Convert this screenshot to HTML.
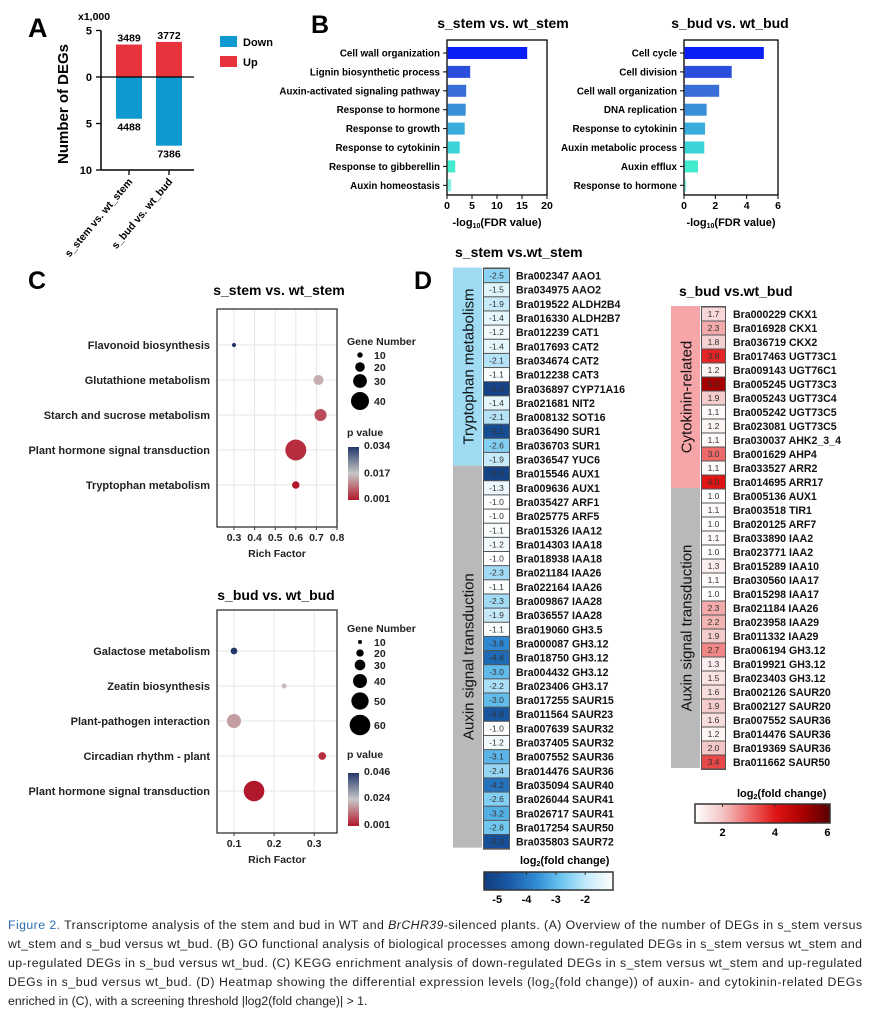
<!DOCTYPE html>
<html><head><meta charset="utf-8">
<style>
html,body{margin:0;padding:0;background:#fff;}
svg{display:block;font-family:"Liberation Sans",Arial,sans-serif;}
.b{font-weight:bold;}
</style></head>
<body>
<svg id="fig" width="871" height="1015" viewBox="0 0 871 1015" xmlns="http://www.w3.org/2000/svg">
<text x="28" y="37" font-size="27" class="b">A</text>
<text x="311" y="33" font-size="25" class="b">B</text>
<text x="28" y="289" font-size="25" class="b">C</text>
<text x="414" y="289" font-size="25" class="b">D</text>

<g id="panelA">
  <text x="78" y="20" font-size="10.5" class="b">x1,000</text>
  <text transform="translate(68,104) rotate(-90)" font-size="15" text-anchor="middle" class="b">Number of DEGs</text>
  <rect x="220" y="36" width="17" height="11" fill="#0e9ad0"/>
  <text x="243" y="46" font-size="11" class="b">Down</text>
  <rect x="220" y="56" width="17" height="11" fill="#e8323c"/>
  <text x="243" y="66" font-size="11" class="b">Up</text>
</g>

<text x="503" y="28" font-size="14" class="b" text-anchor="middle">s_stem vs. wt_stem</text>
<text x="730" y="28" font-size="14" class="b" text-anchor="middle">s_bud vs. wt_bud</text>
<g id="panelB1"></g>
<g id="panelB2"></g>

<text x="279" y="295" font-size="14" class="b" text-anchor="middle">s_stem vs. wt_stem</text>
<text x="276" y="600" font-size="14" class="b" text-anchor="middle">s_bud vs. wt_bud</text>
<g id="panelC1"></g>
<g id="panelC2"></g>

<text x="455" y="257" font-size="14" class="b">s_stem vs.wt_stem</text>
<text x="679" y="296" font-size="14" class="b">s_bud vs.wt_bud</text>
<g id="panelD1"></g>
<g id="panelD2"></g>

<g font-size="12.3" fill="#231f20">
<text x="8" y="929" textLength="854" lengthAdjust="spacing"><tspan fill="#2b6cb0">Figure 2.</tspan> Transcriptome analysis of the stem and bud in WT and <tspan font-style="italic">BrCHR39</tspan>-silenced plants. (A) Overview of the number of DEGs in s_stem versus</text>
<text x="8" y="948" textLength="854" lengthAdjust="spacing">wt_stem and s_bud versus wt_bud. (B) GO functional analysis of biological processes among down-regulated DEGs in s_stem versus wt_stem and</text>
<text x="8" y="967" textLength="854" lengthAdjust="spacing">up-regulated DEGs in s_bud versus wt_bud. (C) KEGG enrichment analysis of down-regulated DEGs in s_stem versus wt_stem and up-regulated</text>
<text x="8" y="986" textLength="854" lengthAdjust="spacing">DEGs in s_bud versus wt_bud. (D) Heatmap showing the differential expression levels (log<tspan font-size="8" dy="3">2</tspan><tspan dy="-3">(fold change)) of auxin- and cytokinin-related DEGs</tspan></text>
<text x="8" y="1005">enriched in (C), with a screening threshold |log2(fold change)| &gt; 1.</text>
</g>
</svg>

<script>
const degCats = ['s_stem vs. wt_stem', 's_bud vs. wt_bud'];
const degUp = [3489, 3772];
const degDown = [4488, 7386];
const degTicks = [5, 0, 5, 10];
const degTickVals = [-5000, 0, 5000, 10000];

const goStemTerms = ['Cell wall organization','Lignin biosynthetic process','Auxin-activated signaling pathway','Response to hormone','Response to growth','Response to cytokinin','Response to gibberellin','Auxin homeostasis'];
const goStemVals = [15.9, 4.5, 3.7, 3.6, 3.4, 2.4, 1.5, 0.7];
const goStemTicks = [0, 5, 10, 15, 20];
const goBudTerms = ['Cell cycle','Cell division','Cell wall organization','DNA replication','Response to cytokinin','Auxin metabolic process','Auxin efflux','Response to hormone'];
const goBudVals = [5.05, 3.0, 2.2, 1.4, 1.3, 1.25, 0.85, 0.1];
const goBudTicks = [0, 2, 4, 6];

const keggStemTerms = ['Flavonoid biosynthesis','Glutathione metabolism','Starch and sucrose metabolism','Plant hormone signal transduction','Tryptophan metabolism'];
const keggStemRich = [0.30, 0.71, 0.72, 0.60, 0.60];
const keggStemCount = [7, 21, 26, 47, 15];
const keggStemP = [0.034, 0.015, 0.006, 0.003, 0.001];
const keggStemTicks = [0.3, 0.4, 0.5, 0.6, 0.7, 0.8];
const keggStemSizeLegend = [10, 20, 30, 40];
const keggStemPTicks = [0.034, 0.017, 0.001];

const keggBudTerms = ['Galactose metabolism','Zeatin biosynthesis','Plant-pathogen interaction','Circadian rhythm - plant','Plant hormone signal transduction'];
const keggBudRich = [0.10, 0.225, 0.10, 0.32, 0.15];
const keggBudCount = [18, 13, 40, 21, 60];
const keggBudP = [0.046, 0.022, 0.018, 0.004, 0.001];
const keggBudTicks = [0.1, 0.2, 0.3];
const keggBudSizeLegend = [10, 20, 30, 40, 50, 60];
const keggBudPTicks = [0.046, 0.024, 0.001];

const stemGenes = ['Bra002347 AAO1','Bra034975 AAO2','Bra019522 ALDH2B4','Bra016330 ALDH2B7','Bra012239 CAT1','Bra017693 CAT2','Bra034674 CAT2','Bra012238 CAT3','Bra036897 CYP71A16','Bra021681 NIT2','Bra008132 SOT16','Bra036490 SUR1','Bra036703 SUR1','Bra036547 YUC6',
'Bra015546 AUX1','Bra009636 AUX1','Bra035427 ARF1','Bra025775 ARF5','Bra015326 IAA12','Bra014303 IAA18','Bra018938 IAA18','Bra021184 IAA26','Bra022164 IAA26','Bra009867 IAA28','Bra036557 IAA28','Bra019060 GH3.5','Bra000087 GH3.12','Bra018750 GH3.12','Bra004432 GH3.12','Bra023406 GH3.17','Bra017255 SAUR15','Bra011564 SAUR23','Bra007639 SAUR32','Bra037405 SAUR32','Bra007552 SAUR36','Bra014476 SAUR36','Bra035094 SAUR40','Bra026044 SAUR41','Bra026717 SAUR41','Bra017254 SAUR50','Bra035803 SAUR72'];
const stemVals = [-2.5,-1.5,-1.9,-1.4,-1.2,-1.4,-2.1,-1.1,-5.4,-1.4,-2.1,-5.1,-2.6,-1.9,
-5.4,-1.3,-1.0,-1.0,-1.1,-1.2,-1.0,-2.3,-1.1,-2.3,-1.9,-1.1,-3.8,-4.4,-3.0,-2.2,-3.0,-4.8,-1.0,-1.2,-3.1,-2.4,-4.2,-2.6,-3.2,-2.8,-5.0];
const stemGroups = ['Tryptophan metabolism','Auxin signal transduction'];
const stemGroupSizes = [14, 27];

const budGenes = ['Bra000229 CKX1','Bra016928 CKX1','Bra036719 CKX2','Bra017463 UGT73C1','Bra009143 UGT76C1','Bra005245 UGT73C3','Bra005243 UGT73C4','Bra005242 UGT73C5','Bra023081 UGT73C5','Bra030037 AHK2_3_4','Bra001629 AHP4','Bra033527 ARR2','Bra014695 ARR17',
'Bra005136 AUX1','Bra003518 TIR1','Bra020125 ARF7','Bra033890 IAA2','Bra023771 IAA2','Bra015289 IAA10','Bra030560 IAA17','Bra015298 IAA17','Bra021184 IAA26','Bra023958 IAA29','Bra011332 IAA29','Bra006194 GH3.12','Bra019921 GH3.12','Bra023403 GH3.12','Bra002126 SAUR20','Bra002127 SAUR20','Bra007552 SAUR36','Bra014476 SAUR36','Bra019369 SAUR36','Bra011662 SAUR50'];
const budVals = [1.7,2.3,1.8,3.8,1.2,5.0,1.9,1.1,1.2,1.1,3.0,1.1,4.0,
1.0,1.1,1.0,1.1,1.0,1.3,1.1,1.0,2.3,2.2,1.9,2.7,1.3,1.5,1.6,1.9,1.6,1.2,2.0,3.4];
const budGroups = ['Cytokinin-related','Auxin signal transduction'];
const budGroupSizes = [13, 20];
const stemLegendTicks = [-5, -4, -3, -2];
const budLegendTicks = [2, 4, 6];

const NS = 'http://www.w3.org/2000/svg';
function mk(tag, attrs, parent) {
  const el = document.createElementNS(NS, tag);
  for (const k in attrs) el.setAttribute(k, attrs[k]);
  parent.appendChild(el);
  return el;
}
function txt(str, attrs, parent) { const t = mk('text', attrs, parent); t.textContent = str; return t; }
function lerp(a, b, t) { return a + (b - a) * t; }
function mixHex(c1, c2, t) {
  const p = c => [parseInt(c.slice(1,3),16), parseInt(c.slice(3,5),16), parseInt(c.slice(5,7),16)];
  const a = p(c1), b = p(c2);
  return 'rgb(' + a.map((v,i) => Math.round(lerp(v, b[i], t))).join(',') + ')';
}
function rampColor(stops, t) {
  t = Math.max(0, Math.min(1, t));
  const n = stops.length - 1, i = Math.min(n - 1, Math.floor(t * n));
  return mixHex(stops[i], stops[i+1], t * n - i);
}

(function(){
  const g = document.getElementById('panelA');
  const y0 = 77, k = 0.00930;
  const yA = v => y0 + v * k;
  const xC = i => 129 + i * 40;
  const ax = mk('line', {x1:101, y1:yA(-5000), x2:101, y2:yA(10000), stroke:'#000', 'stroke-width':1.5}, g);
  
  
  degTickVals.forEach((v, i) => {
    const tk = mk('line', {x1:96, y1:yA(v), x2:101, y2:yA(v), stroke:'#000', 'stroke-width':1.3}, g);
    
    
    const tl = txt(String(degTicks[i]), {x:92, y:yA(v)+4, 'font-size':11, 'text-anchor':'end', class:'b'}, g);
    
    
  });
  degCats.forEach((c, i) => {
    const up = mk('rect', {x:xC(i)-13, y:yA(-degUp[i]), width:26, height:degUp[i]*k, fill:'#e8323c'}, g);
    
    
    const dn = mk('rect', {x:xC(i)-13, y:y0, width:26, height:degDown[i]*k, fill:'#0e9ad0'}, g);
    
    
    const ul = txt(String(degUp[i]), {x:xC(i), y:yA(-degUp[i])-3, 'font-size':10.5, 'text-anchor':'middle', class:'b'}, g);
    
    
    const dl = txt(String(degDown[i]), {x:xC(i), y:yA(degDown[i])+12, 'font-size':10.5, 'text-anchor':'middle', class:'b'}, g);
    
    
    const xt = mk('line', {x1:xC(i), y1:yA(10000), x2:xC(i), y2:yA(10000)+5, stroke:'#000', 'stroke-width':1.3}, g);
    
    
    const xl = txt(c, {transform:'translate('+(xC(i)+4)+','+(yA(10000)+12)+') rotate(-50)', 'font-size':10.5, 'text-anchor':'end', class:'b'}, g);
    
    
  });
  const zl = mk('line', {x1:101, y1:y0, x2:194, y2:y0, stroke:'#000', 'stroke-width':1.2}, g);
  
  
  const bl = mk('line', {x1:101, y1:yA(10000), x2:194, y2:yA(10000), stroke:'#000', 'stroke-width':1.5}, g);
  
  
})();

const goPalette = ['#0a1ff5','#2a4fdc','#3a6fd8','#3a8fdb','#38addb','#3ad3d8','#40eccd','#88f0e0'];
function goChart(gid, terms, vals, ticks, left, right) {
  const g = document.getElementById(gid);
  const top = 40, bottom = 195;
  const max = ticks[ticks.length-1];
  const xS = v => left + (right - left) * v / max;
  const yS = i => 53 + i * 18.9;
  const box = mk('rect', {x:left, y:top, width:right-left, height:bottom-top, fill:'none', stroke:'#000', 'stroke-width':1.3}, g);
  
  
  terms.forEach((t, i) => {
    const bar = mk('rect', {x:left+0.7, y:yS(i)-6, width:Math.max(1, xS(vals[i])-left), height:12, fill:goPalette[i]}, g);
    
    
    const tk = mk('line', {x1:left-4, y1:yS(i), x2:left, y2:yS(i), stroke:'#000'}, g);
    
    
    const lb = txt(t, {x:left-7, y:yS(i)+3.5, 'font-size':9.8, 'text-anchor':'end', class:'b'}, g);
    
    
  });
  ticks.forEach(v => {
    const tk = mk('line', {x1:xS(v), y1:bottom, x2:xS(v), y2:bottom+4, stroke:'#000'}, g);
    
    
    const tl = txt(String(v), {x:xS(v), y:bottom+14, 'font-size':10.5, 'text-anchor':'middle', class:'b'}, g);
    
    
  });
  const at = mk('text', {x:(left+right)/2, y:bottom+31, 'font-size':11, 'text-anchor':'middle', class:'b'}, g);
  
  
  at.innerHTML = '-log<tspan font-size="7" dy="2">10</tspan><tspan dy="-2">(FDR value)</tspan>';
}
goChart('panelB1', goStemTerms, goStemVals, goStemTicks, 447, 547);
goChart('panelB2', goBudTerms, goBudVals, goBudTicks, 684, 778);

const pStops = ['#b2182b','#c8c8c8','#23386a'];
function keggChart(gid, o) {
  const g = document.getElementById(gid);
  const xS = v => o.x0 + (v - o.v0) * o.pxPer;
  const yS = i => o.rowY0 + i * o.rowStep;
  const rS = n => o.ra + o.rb * n;
  const pMin = o.pTicks[o.pTicks.length-1], pMax = o.pTicks[0];
  const pCol = p => rampColor(pStops, (p - pMin) / (pMax - pMin));
  const bg = mk('rect', {x:o.left, y:o.top, width:o.right-o.left, height:o.bottom-o.top, fill:'#fff'}, g);
  
  
  o.ticks.forEach(v => {
    const gl = mk('line', {x1:xS(v), y1:o.top, x2:xS(v), y2:o.bottom, stroke:'#e6e6e6', 'stroke-width':1}, g);
    
    
    const tk = mk('line', {x1:xS(v), y1:o.bottom, x2:xS(v), y2:o.bottom+3, stroke:'#333'}, g);
    
    
    const tl = txt(String(v), {x:xS(v), y:o.bottom+14, 'font-size':10.5, 'text-anchor':'middle', class:'b', fill:'#222'}, g);
    
    
  });
  o.terms.forEach((t, i) => {
    const gl = mk('line', {x1:o.left, y1:yS(i), x2:o.right, y2:yS(i), stroke:'#e6e6e6'}, g);
    
    
    const lb = txt(t, {x:o.left-7, y:yS(i)+4, 'font-size':11, 'text-anchor':'end', class:'b', fill:'#222'}, g);
    
    
  });
  o.terms.forEach((t, i) => {
    const c = mk('circle', {cx:xS(o.rich[i]), cy:yS(i), r:rS(o.count[i]), fill:pCol(o.p[i])}, g);
    
    
  });
  const fr = mk('rect', {x:o.left, y:o.top, width:o.right-o.left, height:o.bottom-o.top, fill:'none', stroke:'#333', 'stroke-width':1.3}, g);
  
  
  const xt = txt('Rich Factor', {x:(o.left+o.right)/2, y:o.bottom+30, 'font-size':10.5, 'text-anchor':'middle', class:'b', fill:'#222'}, g);
  
  
  const sl = txt('Gene Number', {x:347, y:o.sizeTitleY, 'font-size':10.5, class:'b', fill:'#222'}, g);
  
  
  o.sizeLegend.forEach((n, i) => {
    const y = o.sizeY[i];
    const c = mk('circle', {cx:360, cy:y, r:rS(n), fill:'#000'}, g);
    
    
    const l = txt(String(n), {x:374, y:y+4, 'font-size':10.5, class:'b', fill:'#222'}, g);
    
    
  });
  const pl = txt('p value', {x:347, y:o.pTitleY, 'font-size':10.5, class:'b', fill:'#222'}, g);
  
  
  const gradId = gid + '-grad';
  const defs = mk('defs', {}, g);
  const lg = mk('linearGradient', {id:gradId, x1:0, y1:0, x2:0, y2:1}, defs);
  mk('stop', {offset:'0', 'stop-color':pStops[2]}, lg);
  mk('stop', {offset:'0.5', 'stop-color':pStops[1]}, lg);
  mk('stop', {offset:'1', 'stop-color':pStops[0]}, lg);
  const cb = mk('rect', {x:348, y:o.cbTop, width:11, height:o.cbBot-o.cbTop, fill:'url(#'+gradId+')'}, g);
  
  
  o.pTicks.forEach(p => {
    const y = o.cbBot - (p - pMin) / (pMax - pMin) * (o.cbBot - o.cbTop);
    const l = txt(p.toFixed(3), {x:364, y:y+2, 'font-size':10.5, class:'b', fill:'#222'}, g);
    
    
  });
}
keggChart('panelC1', {terms:keggStemTerms, rich:keggStemRich, count:keggStemCount, p:keggStemP, ticks:keggStemTicks,
  left:217, right:337, top:309, bottom:527, x0:234, v0:0.3, pxPer:206, rowY0:345, rowStep:35,
  ra:0.6, rb:0.21, sizeLegend:keggStemSizeLegend, sizeY:[355,367,381,401], sizeTitleY:345,
  pTitleY:436, cbTop:447, cbBot:500, pTicks:keggStemPTicks});
keggChart('panelC2', {terms:keggBudTerms, rich:keggBudRich, count:keggBudCount, p:keggBudP, ticks:keggBudTicks,
  left:217, right:337, top:610, bottom:833, x0:234, v0:0.1, pxPer:401, rowY0:651, rowStep:35,
  ra:0.35, rb:0.166, sizeLegend:keggBudSizeLegend, sizeY:[642,653,665,681,701,725], sizeTitleY:632,
  pTitleY:758, cbTop:773, cbBot:826, pTicks:keggBudPTicks});

const blueStops = ['#ffffff','#c6eafa','#6cc6f0','#2f8ad4','#1a5aa6','#123c7e'];
const redStops = ['#ffffff','#f4c6c6','#ee6a6a','#e01414','#a80000','#5a0000'];
const blueCol = v => rampColor(blueStops, (-v - 1) / 4.6);
const redCol = v => rampColor(redStops, (v - 1) / 5);
function heat(gid, genes, vals, groups, sizes, groupColors, o, colFn) {
  const g = document.getElementById(gid);
  const yS = i => o.y0 + i * o.step;
  let start = 0;
  groups.forEach((name, gi) => {
    const y1 = yS(start) - 1, y2 = yS(start + sizes[gi]) - 1;
    const r = mk('rect', {x:o.gx, y:y1, width:o.gw, height:y2-y1, fill:groupColors[gi]}, g);
    
    
    const t = txt(name, {transform:'translate('+(o.gx+o.gw/2+6)+','+((y1+y2)/2)+') rotate(-90)', 'font-size':15, 'text-anchor':'middle', fill:'#111'}, g);
    
    
    start += sizes[gi];
  });
  const fr = mk('rect', {x:o.cx-1, y:o.y0-1, width:o.cw+2, height:genes.length*o.step+2, fill:'#555'}, g);
  
  
  genes.forEach((gn, i) => {
    const c = mk('rect', {x:o.cx, y:yS(i)+0.5, width:o.cw, height:o.step-1, fill:colFn(vals[i])}, g);
    
    
    const vt = txt(vals[i].toFixed(1), {x:o.cx+o.cw/2, y:yS(i)+o.step/2+3, 'font-size':8.5, 'text-anchor':'middle', fill:'#333'}, g);
    
    
    const gt = txt(gn, {x:o.tx, y:yS(i)+o.step/2+4, 'font-size':10.6, class:'b', fill:'#111'}, g);
    
    
  });
}
heat('panelD1', stemGenes, stemVals, stemGroups, stemGroupSizes, ['#9fdcf4','#b9b9b9'],
  {y0:268.5, step:14.15, gx:453, gw:29, cx:484, cw:25, tx:516}, blueCol);
heat('panelD2', budGenes, budVals, budGroups, budGroupSizes, ['#f6a5a8','#b9b9b9'],
  {y0:307, step:14.0, gx:671, gw:29, cx:702, cw:23, tx:733}, redCol);

function heatLegend(gid, x1, x2, y1, y2, vMin, vMax, stops, reverse, ticks, titleX, titleY) {
  const g = document.getElementById(gid);
  const gradId = gid + '-lg';
  const defs = mk('defs', {}, g);
  const lg = mk('linearGradient', {id:gradId, x1:0, y1:0, x2:1, y2:0}, defs);
  const arr = reverse ? stops.slice().reverse() : stops;
  arr.forEach((c, i) => mk('stop', {offset:i/(arr.length-1), 'stop-color':c}, lg));
  const r = mk('rect', {x:x1, y:y1, width:x2-x1, height:y2-y1, fill:'url(#'+gradId+')', stroke:'#333', 'stroke-width':1.5}, g);
  
  
  const xS = v => x1 + (v - vMin) / (vMax - vMin) * (x2 - x1);
  ticks.forEach(v => {
    const tk = mk('line', {x1:xS(v), y1:y1, x2:xS(v), y2:y1+3, stroke:'#333'}, g);
    
    
    const tl = txt(String(v), {x:xS(v), y:y2+13, 'font-size':11, 'text-anchor':'middle', class:'b'}, g);
    
    
  });
  const t = mk('text', {x:titleX, y:titleY, 'font-size':11, class:'b'}, g);
  
  
  t.innerHTML = 'log<tspan font-size="7" dy="2">2</tspan><tspan dy="-2">(fold change)</tspan>';
}
heatLegend('panelD1', 484, 613, 872, 890, -5.45, -1.05, blueStops, true, stemLegendTicks, 520, 864);
heatLegend('panelD2', 695, 830, 804, 823, 0.95, 6.1, redStops, false, budLegendTicks, 737, 797);
</script>
</body></html>
